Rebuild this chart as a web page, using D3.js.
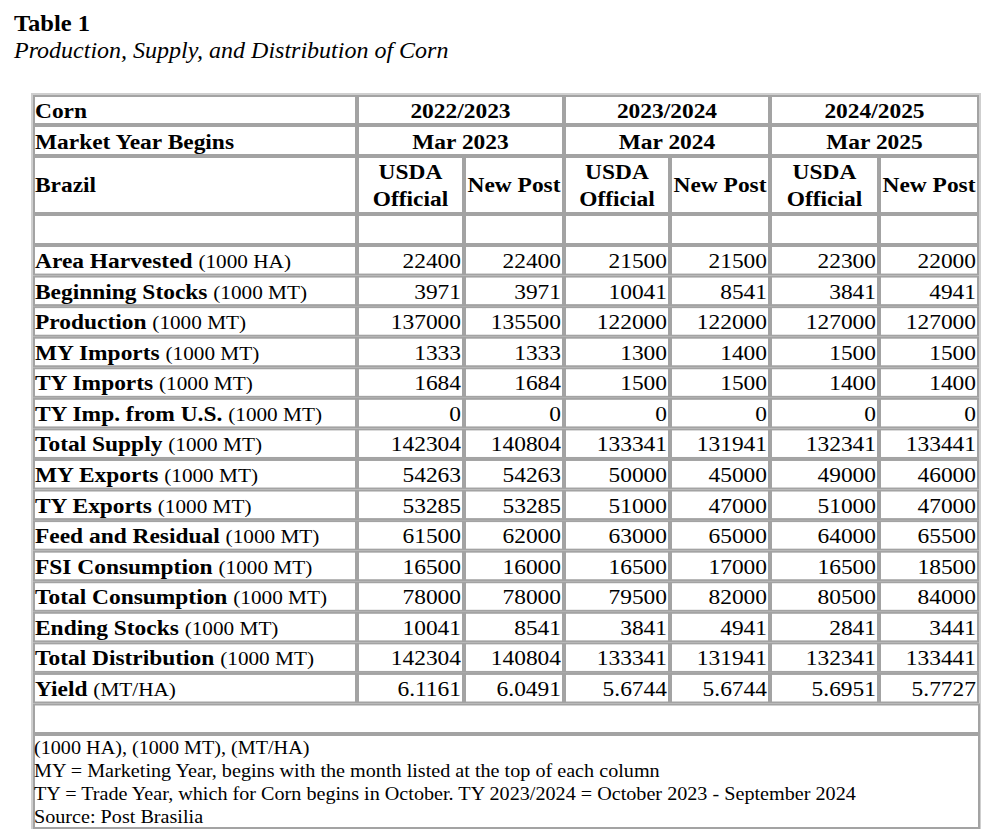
<!DOCTYPE html>
<html>
<head>
<meta charset="utf-8">
<script src="https://cdn.jsdelivr.net/npm/d3@7"></script>
<style>
  body { margin: 0; background: #fff; }
  svg text { font-family: "Liberation Serif", "Times New Roman", serif; fill: #000; }
</style>
</head>
<body>
<svg id="chart" width="990" height="830"></svg>
<script>
// ---------- DATA ----------
const commodity = "Corn";
const marketYearLabel = "Market Year Begins";
const countryLabel = "Brazil";
const years = ["2022/2023", "2023/2024", "2024/2025"];
const marketYears = ["Mar 2023", "Mar 2024", "Mar 2025"];
const subHeaders = [["USDA", "Official"], ["New Post"]];
const rowLabels = ["Area Harvested", "Beginning Stocks", "Production", "MY Imports", "TY Imports",
  "TY Imp. from U.S.", "Total Supply", "MY Exports", "TY Exports", "Feed and Residual",
  "FSI Consumption", "Total Consumption", "Ending Stocks", "Total Distribution", "Yield"];
const rowUnits = ["(1000 HA)", "(1000 MT)", "(1000 MT)", "(1000 MT)", "(1000 MT)", "(1000 MT)",
  "(1000 MT)", "(1000 MT)", "(1000 MT)", "(1000 MT)", "(1000 MT)", "(1000 MT)", "(1000 MT)",
  "(1000 MT)", "(MT/HA)"];
const usda2223 = ["22400","3971","137000","1333","1684","0","142304","54263","53285","61500","16500","78000","10041","142304","6.1161"];
const post2223 = ["22400","3971","135500","1333","1684","0","140804","54263","53285","62000","16000","78000","8541","140804","6.0491"];
const usda2324 = ["21500","10041","122000","1300","1500","0","133341","50000","51000","63000","16500","79500","3841","133341","5.6744"];
const post2324 = ["21500","8541","122000","1400","1500","0","131941","45000","47000","65000","17000","82000","4941","131941","5.6744"];
const usda2425 = ["22300","3841","127000","1500","1400","0","132341","49000","51000","64000","16500","80500","2841","132341","5.6951"];
const post2425 = ["22000","4941","127000","1500","1400","0","133441","46000","47000","65500","18500","84000","3441","133441","5.7727"];
const footnotes = ["(1000 HA), (1000 MT), (MT/HA)",
  "MY = Marketing Year, begins with the month listed at the top of each column",
  "TY = Trade Year, which for Corn begins in October. TY 2023/2024 = October 2023 - September 2024",
  "Source: Post Brasilia"];
const tableTitle = "Table 1";
const tableSubtitle = "Production, Supply, and Distribution of Corn";

// ---------- LAYOUT ----------
const series = [usda2223, post2223, usda2324, post2324, usda2425, post2425];
const svg = d3.select("#chart");
const colEdges = [33, 357, 464, 564, 670, 770, 879, 979];
const lineColor = "#a3a3a3";
const SX = 1.09;

function txt(x, y, opts = {}) {
  const t = svg.append("text")
    .attr("transform", `translate(${x},${y}) scale(${opts.sx || SX},1)`)
    .attr("text-anchor", opts.anchor || "start")
    .attr("font-size", opts.size || 21.5);
  if (opts.bold) t.attr("font-weight", "bold");
  if (opts.italic) t.attr("font-style", "italic");
  if (opts.text !== undefined) t.text(opts.text);
  return t;
}

txt(14, 31, { size: 22.5, bold: true, text: tableTitle });
txt(14, 58, { size: 24, italic: true, sx: 1, text: tableSubtitle });

const tableTop = 95, tableRight = 980, tableBottom = 829;
svg.append("rect").attr("x", 32).attr("y", tableTop - 1).attr("width", tableRight - 32).attr("height", tableBottom - tableTop)
  .attr("fill", "none").attr("stroke", "#cfcfcf").attr("stroke-width", 2);

function cell(x0, y0, x1, y1) {
  svg.append("rect").attr("x", x0 + 1).attr("y", y0 + 1).attr("width", x1 - x0 - 2).attr("height", y1 - y0 - 2)
    .attr("fill", "none").attr("stroke", lineColor).attr("stroke-width", 2);
}

// header rows
const h1 = [95, 125], h2 = [125, 156], h3 = [156, 214], hE = [214, 245];
[h1, h2, h3, hE].forEach(h => cell(colEdges[0], h[0], colEdges[1], h[1]));
txt(35, 118, { bold: true, text: commodity });
txt(35, 149, { bold: true, text: marketYearLabel });
txt(35, 192, { bold: true, text: countryLabel });

years.forEach((yr, i) => {
  const x0 = colEdges[1 + 2 * i], x1 = colEdges[3 + 2 * i];
  cell(x0, h1[0], x1, h1[1]);
  cell(x0, h2[0], x1, h2[1]);
  txt((x0 + x1) / 2, 118, { anchor: "middle", bold: true, text: yr });
  txt((x0 + x1) / 2, 149, { anchor: "middle", bold: true, text: marketYears[i] });
});

for (let c = 0; c < 6; c++) {
  const x0 = colEdges[1 + c], x1 = colEdges[2 + c];
  cell(x0, h3[0], x1, h3[1]);
  cell(x0, hE[0], x1, hE[1]);
  const sh = subHeaders[c % 2];
  if (sh.length === 2) {
    txt((x0 + x1) / 2, 179, { anchor: "middle", bold: true, text: sh[0] });
    txt((x0 + x1) / 2, 206, { anchor: "middle", bold: true, text: sh[1] });
  } else {
    txt((x0 + x1) / 2, 192, { anchor: "middle", bold: true, text: sh[0] });
  }
}

// data rows
const y = d3.scaleBand().domain(d3.range(rowLabels.length)).range([245, 703.5]).padding(0);
rowLabels.forEach((lab, r) => {
  const y0 = y(r), y1 = y(r) + y.bandwidth();
  cell(colEdges[0], y0, colEdges[1], y1);
  const t = txt(35, y0 + 23);
  t.append("tspan").attr("font-weight", "bold").text(lab + " ");
  t.append("tspan").attr("font-size", 19.5).text(rowUnits[r]);
  series.forEach((s, c) => {
    const x0 = colEdges[1 + c], x1 = colEdges[2 + c];
    cell(x0, y0, x1, y1);
    txt(x1 - 3, y0 + 23, { anchor: "end", text: s[r] });
  });
});

// empty row and footnote
cell(colEdges[0], 703.5, tableRight, 734);
cell(colEdges[0], 734, tableRight, 829);
footnotes.forEach((f, i) => {
  txt(34, 754 + i * 23, { size: 18.5, text: f });
});
</script>
</body>
</html>
